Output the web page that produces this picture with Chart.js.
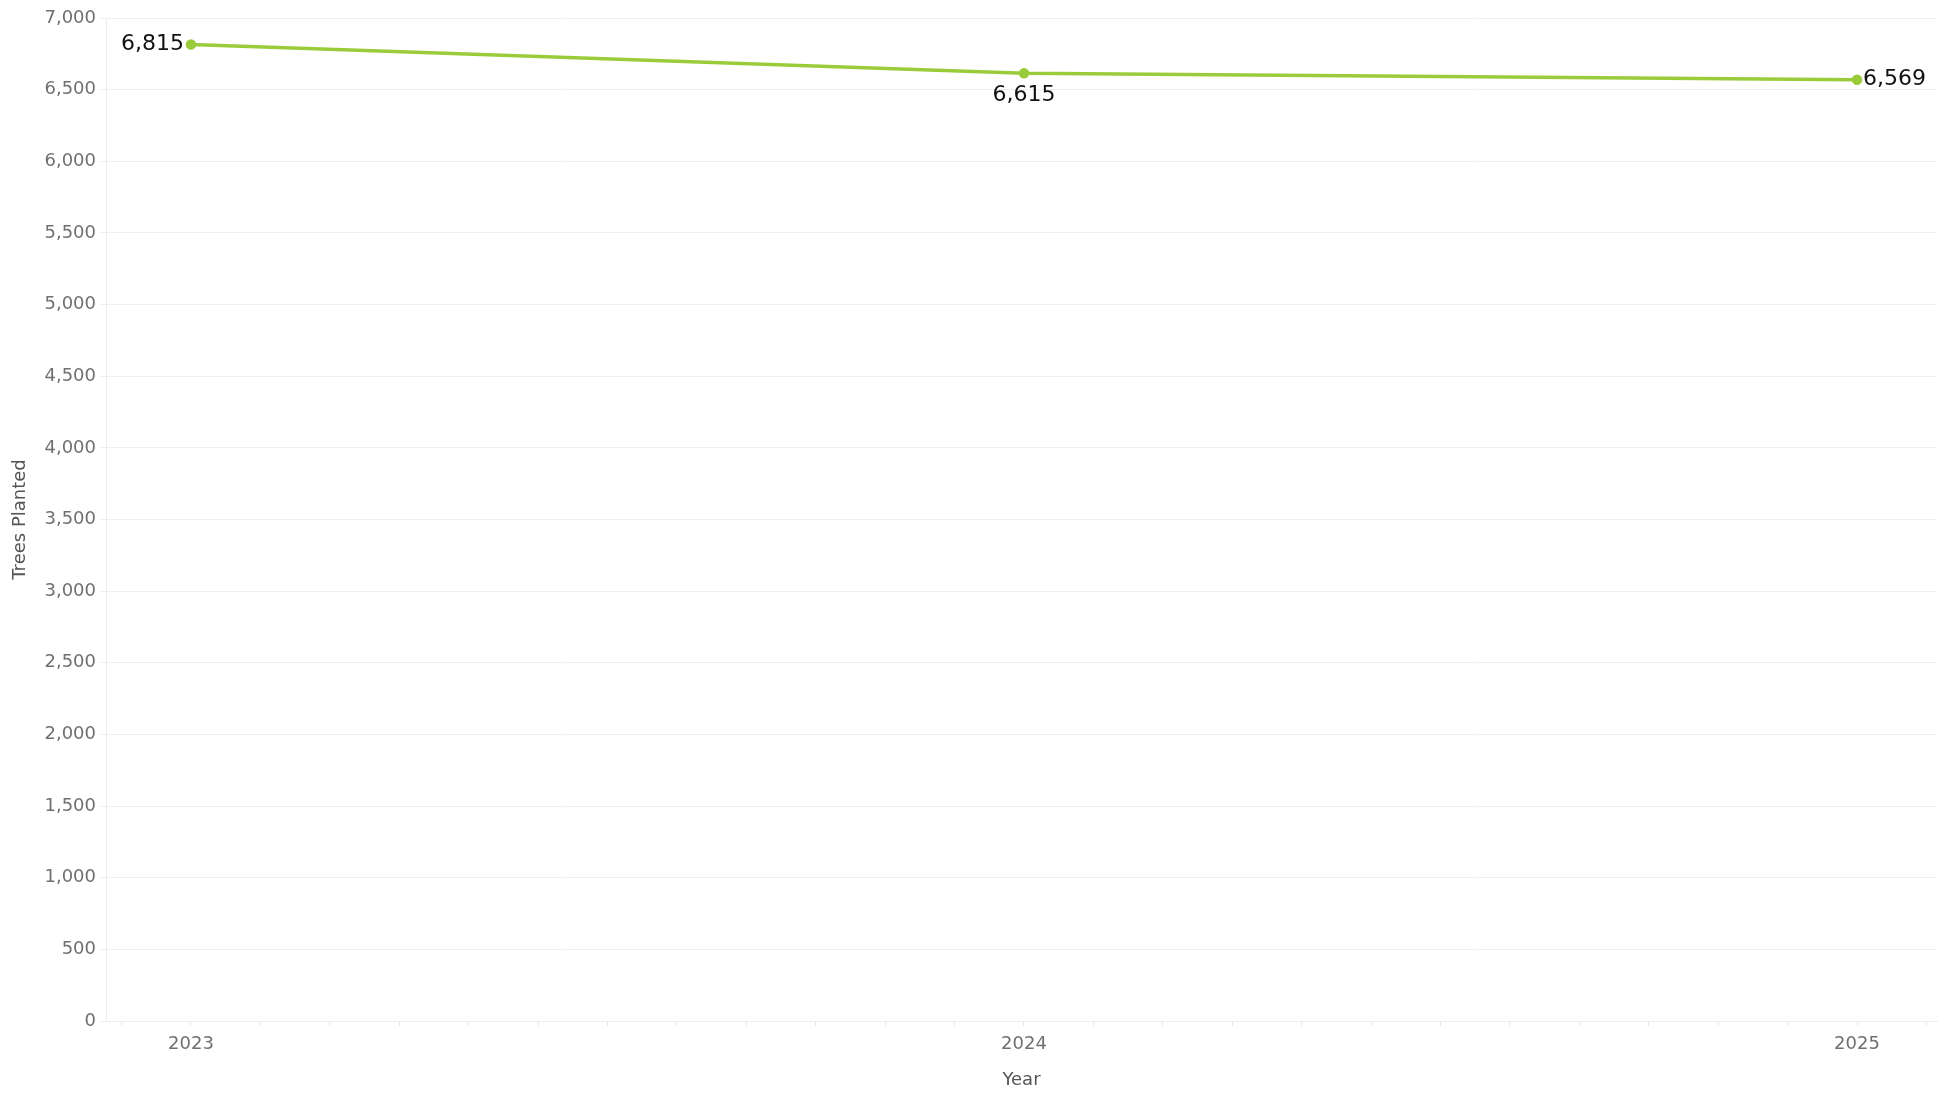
<!DOCTYPE html>
<html>
<head>
<meta charset="utf-8">
<title>Trees Planted by Year</title>
<script src="https://cdn.jsdelivr.net/npm/chart.js@4/dist/chart.umd.min.js"></script>
<style>
  html, body { margin: 0; padding: 0; background: #fff; }
  #wrap { width: 1944px; height: 1093px; }
</style>
</head>
<body>
<div id="wrap"><canvas id="treesChart"></canvas></div>
<script>
// Data
const years = [2023, 2024, 2025];
const treesPlanted = [6815, 6615, 6569];
const yTicks = [0, 500, 1000, 1500, 2000, 2500, 3000, 3500, 4000, 4500, 5000, 5500, 6000, 6500, 7000];

const lineColor = "#9acb3a";
const fontFamily = "'DejaVu Sans', Verdana, sans-serif";

// where each value label sits relative to its point
const labelSide = ["left", "below", "right"];

const valueLabels = {
  id: "valueLabels",
  afterDatasetsDraw(chart) {
    const ctx = chart.ctx;
    const meta = chart.getDatasetMeta(0);
    ctx.save();
    ctx.font = "22px " + fontFamily;
    ctx.fillStyle = "#111";
    meta.data.forEach((pt, i) => {
      const text = treesPlanted[i].toLocaleString("en-US");
      const side = labelSide[i];
      if (side === "left") {
        ctx.textAlign = "right";
        ctx.textBaseline = "middle";
        ctx.fillText(text, pt.x - 7, pt.y);
      } else if (side === "right") {
        ctx.textAlign = "left";
        ctx.textBaseline = "middle";
        ctx.fillText(text, pt.x + 6, pt.y);
      } else {
        ctx.textAlign = "center";
        ctx.textBaseline = "middle";
        ctx.fillText(text, pt.x, pt.y + 22);
      }
    });
    ctx.restore();
  }
};

const ctx = document.getElementById("treesChart").getContext("2d");

new Chart(ctx, {
  type: "line",
  data: {
    datasets: [{
      label: "Trees Planted",
      data: years.map((y, i) => ({ x: y, y: treesPlanted[i] })),
      borderColor: lineColor,
      backgroundColor: lineColor,
      borderWidth: 3.5,
      pointRadius: 3.5,
      pointHoverRadius: 3.5,
      tension: 0
    }]
  },
  options: {
    responsive: true,
    maintainAspectRatio: false,
    animation: false,
    layout: { padding: { top: 18, right: 2, left: 0, bottom: 0 } },
    plugins: {
      legend: { display: false },
      tooltip: { enabled: false }
    },
    scales: {
      x: {
        type: "linear",
        min: 2022.898,
        max: 2025.096,
        afterBuildTicks(scale) {
          // one small tick per month, labels only on the years
          const ticks = [];
          const start = Math.ceil(scale.min * 12);
          const end = Math.floor(scale.max * 12);
          for (let m = start; m <= end; m++) ticks.push({ value: m / 12 });
          scale.ticks = ticks;
        },
        afterFit(scale) { scale.height = 72; },
        ticks: {
          autoSkip: false,
          maxRotation: 0,
          padding: 8,
          color: "#707070",
          font: { family: fontFamily, size: 18 },
          callback(v) {
            const r = Math.round(v);
            return Math.abs(v - r) < 1e-6 ? String(r) : "";
          }
        },
        grid: {
          drawOnChartArea: false,
          tickLength: 5,
          color: "#e8e8e8"
        },
        border: { display: true, color: "#ececec" },
        title: {
          display: true,
          text: "Year",
          color: "#555",
          font: { family: fontFamily, size: 18 },
          padding: { top: 0, bottom: 2 }
        }
      },
      y: {
        min: 0,
        max: 7000,
        afterBuildTicks(scale) {
          scale.ticks = yTicks.map(v => ({ value: v }));
        },
        afterFit(scale) { scale.width = 106; },
        ticks: {
          padding: 4,
          color: "#707070",
          font: { family: fontFamily, size: 18 },
          callback: v => v.toLocaleString("en-US")
        },
        grid: {
          color: "#f0f0f0",
          tickLength: 6
        },
        border: { display: true, color: "#ececec" },
        title: {
          display: true,
          text: "Trees Planted",
          color: "#555",
          font: { family: fontFamily, size: 18 },
          padding: { top: 10, bottom: 0 }
        }
      }
    }
  },
  plugins: [valueLabels]
});
</script>
</body>
</html>
